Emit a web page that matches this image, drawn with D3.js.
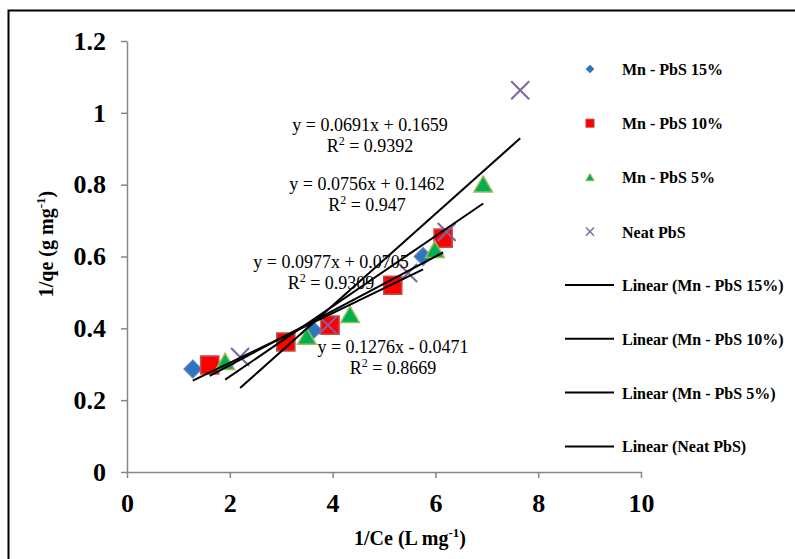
<!DOCTYPE html>
<html>
<head>
<meta charset="utf-8">
<script src="https://cdn.jsdelivr.net/npm/d3@7"></script>
<style>
  body { margin: 0; background: #fff; }
  svg { font-family: "Liberation Serif", "Times New Roman", serif; }
</style>
</head>
<body>
<div id="chart"></div>
<script>
// Series data: [1/Ce, 1/qe]
var mn15 = [[1.28, 0.287], [3.62, 0.395], [5.76, 0.600]];
var mn10 = [[1.61, 0.298], [3.09, 0.362], [3.95, 0.409], [5.17, 0.520], [6.15, 0.651]];
var mn5 = [[1.91, 0.306], [3.50, 0.376], [4.34, 0.437], [5.99, 0.618], [6.93, 0.800]];
var neat = [[2.20, 0.320], [3.91, 0.409], [5.47, 0.554], [6.22, 0.668], [7.65, 1.063]];

// Trendline coefficients as printed on the chart: [slope, intercept]
var fit15 = [0.0691, 0.1659];
var fit10 = [0.0756, 0.1462];
var fit5 = [0.0977, 0.0705];
var fitNeat = [0.1276, -0.0471];

var eqLabels = [
  ["y = 0.0691x + 0.1659", "0.9392"],
  ["y = 0.0756x + 0.1462", "0.947"],
  ["y = 0.0977x + 0.0705", "0.9309"],
  ["y = 0.1276x - 0.0471", "0.8669"]
];

var seriesNames = ["Mn - PbS 15%", "Mn - PbS 10%", "Mn - PbS 5%", "Neat PbS"];
var xTicks = [0, 2, 4, 6, 8, 10];
var yTicks = [0, 0.2, 0.4, 0.6, 0.8, 1, 1.2];

var width = 795, height = 559;

var svg = d3.select("#chart").append("svg")
    .attr("width", width)
    .attr("height", height);

// Outer frame (runs off the right and bottom edges)
svg.append("rect")
    .attr("x", 8.5).attr("y", 10.5)
    .attr("width", 800).attr("height", 560)
    .style("fill", "none")
    .style("stroke", "#000")
    .style("stroke-width", 2);

var x = d3.scaleLinear().domain([0, 10]).range([127, 641]);
var y = d3.scaleLinear().domain([0, 1.2]).range([472, 41]);

// Axes
var xAxis = svg.append("g")
    .attr("transform", "translate(0," + y(0) + ")")
    .call(d3.axisBottom(x).tickValues(xTicks).tickSize(6).tickSizeOuter(0).tickFormat(d3.format("d")));
var yAxis = svg.append("g")
    .attr("transform", "translate(" + x(0) + ",0)")
    .call(d3.axisLeft(y).tickValues(yTicks).tickSize(6).tickSizeOuter(0)
      .tickFormat(function(d) { return d === 0 ? "0" : d === 1 ? "1" : d3.format(".1f")(d); }));

[xAxis, yAxis].forEach(function(a) {
  a.select(".domain").style("stroke", "#868686").style("stroke-width", 1.5);
  a.selectAll(".tick line").style("stroke", "#868686").style("stroke-width", 1.5);
  a.selectAll(".tick text")
      .style("font-family", "Liberation Serif")
      .style("font-weight", "bold")
      .style("font-size", "26px")
      .style("fill", "#000");
});
xAxis.selectAll(".tick text").attr("y", 22);
yAxis.selectAll(".tick text").attr("x", -21);

// Axis titles
var xTitle = svg.append("text")
    .attr("x", 410).attr("y", 545)
    .attr("text-anchor", "middle")
    .style("font-weight", "bold")
    .style("font-size", "20px");
xTitle.append("tspan").text("1/Ce (L mg");
xTitle.append("tspan").attr("dy", -8).style("font-size", "13px").text("-1");
xTitle.append("tspan").attr("dy", 8).text(")");

var yTitle = svg.append("text")
    .attr("transform", "translate(53,244) rotate(-90)")
    .attr("text-anchor", "middle")
    .style("font-weight", "bold")
    .style("font-size", "20px");
yTitle.append("tspan").text("1/qe (g mg");
yTitle.append("tspan").attr("dy", -8).style("font-size", "13px").text("-1");
yTitle.append("tspan").attr("dy", 8).text(")");

// Marker styles
var styles = [
  { shape: "diamond", size: 150, fill: "#2e74c0", stroke: "#4f81bd" },
  { shape: d3.symbolSquare, size: 330, fill: "#ff0000", stroke: "#c0504d" },
  { shape: d3.symbolTriangle, size: 150, fill: "#00b050", stroke: "#9bbb59" },
  { shape: "cross", size: 9, fill: "none", stroke: "#8064a2" }
];

function drawMarker(g, st, cx, cy, scale) {
  if (st.shape === "cross") {
    var r = st.size * scale;
    g.append("path")
        .attr("d", "M" + (cx - r) + "," + (cy - r) + "L" + (cx + r) + "," + (cy + r) +
                   "M" + (cx - r) + "," + (cy + r) + "L" + (cx + r) + "," + (cy - r))
        .style("stroke", st.stroke)
        .style("stroke-width", 2 * Math.max(scale, 0.7));
    return;
  }
  var isDiamond = st.shape === "diamond";
  var type = isDiamond ? d3.symbolSquare : st.shape;
  var yOff = st.shape === d3.symbolTriangle ? 2 * scale : 0;
  g.append("path")
      .attr("transform", "translate(" + cx + "," + (cy + yOff) + ")" + (isDiamond ? " rotate(45)" : ""))
      .attr("d", d3.symbol().type(type).size(st.size * scale * scale)())
      .style("fill", st.fill)
      .style("stroke", st.stroke)
      .style("stroke-width", 1.5 * Math.max(scale, 0.6));
}

var allSeries = [mn15, mn10, mn5, neat];
var fits = [fit15, fit10, fit5, fitNeat];

var points = svg.append("g").attr("class", "points");
allSeries.forEach(function(data, i) {
  var g = points.append("g");
  data.forEach(function(d) {
    drawMarker(g, styles[i], x(d[0]), y(d[1]), 1);
  });
});

// Trendlines across each series' x extent
var lines = svg.append("g").attr("class", "trend");
allSeries.forEach(function(data, i) {
  var ext = d3.extent(data, function(d) { return d[0]; });
  var f = fits[i];
  lines.append("line")
      .attr("x1", x(ext[0])).attr("y1", y(f[0] * ext[0] + f[1]))
      .attr("x2", x(ext[1])).attr("y2", y(f[0] * ext[1] + f[1]))
      .style("stroke", "#000")
      .style("stroke-width", 2);
});

// Equation labels
var eqPos = [[370, 131], [367, 190], [331, 268], [393, 353]];
var eq = svg.append("g").style("font-size", "18px");
eqLabels.forEach(function(lab, i) {
  eq.append("text")
      .attr("x", eqPos[i][0]).attr("y", eqPos[i][1])
      .attr("text-anchor", "middle")
      .text(lab[0]);
  var r = eq.append("text")
      .attr("x", eqPos[i][0]).attr("y", eqPos[i][1] + 21)
      .attr("text-anchor", "middle");
  r.append("tspan").text("R");
  r.append("tspan").attr("dy", -7).style("font-size", "12px").text("2");
  r.append("tspan").attr("dy", 7).text(" = " + lab[1]);
});

// Legend
var legend = svg.append("g").style("font-size", "16px").style("font-weight", "bold");
seriesNames.forEach(function(name, i) {
  var ly = 69 + i * 54.2;
  drawMarker(legend, styles[i], 590, ly, 0.45);
  legend.append("text").attr("x", 622).attr("y", ly + 6).text(name);
});
seriesNames.forEach(function(name, i) {
  var ly = 285 + i * 53.8;
  legend.append("line")
      .attr("x1", 565).attr("x2", 614)
      .attr("y1", ly).attr("y2", ly)
      .style("stroke", "#000").style("stroke-width", 2);
  legend.append("text").attr("x", 622).attr("y", ly + 6).text("Linear (" + name + ")");
});
</script>
</body>
</html>
